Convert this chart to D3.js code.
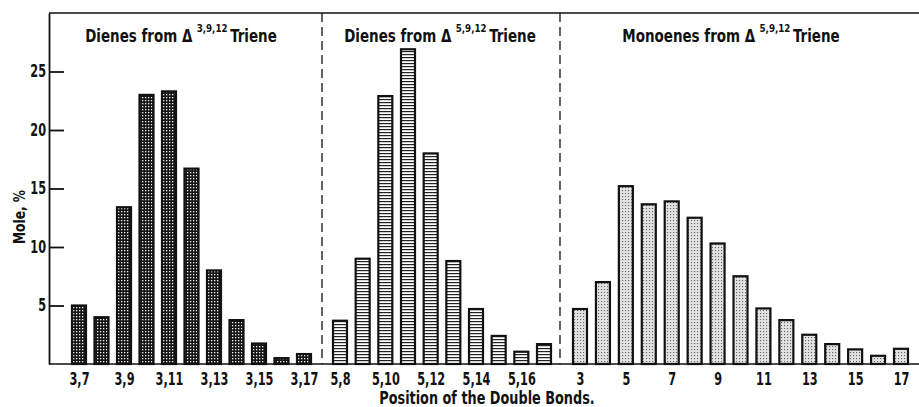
<!DOCTYPE html>
<meta charset="utf-8">
<script src="https://cdn.jsdelivr.net/npm/d3@7/dist/d3.min.js"></script>
<style>
  body { margin: 0; background: #fff; }
  svg text { font-family: "Liberation Sans Narrow", "DejaVu Sans Condensed", sans-serif; font-weight: bold; fill: #111; }
</style>
<body>
<script>
// ---- data ----
var dieneCats39 = ["3,7","3,8","3,9","3,10","3,11","3,12","3,13","3,14","3,15","3,16","3,17"];
var dieneVals39 = [5.0, 4.0, 13.4, 23.0, 23.3, 16.7, 8.0, 3.75, 1.75, 0.5, 0.85];
var dieneLabels39 = ["3,7","3,9","3,11","3,13","3,15","3,17"];

var dieneCats59 = ["5,8","5,9","5,10","5,11","5,12","5,13","5,14","5,15","5,16","5,17"];
var dieneVals59 = [3.7, 9.0, 22.9, 26.9, 18.0, 8.8, 4.7, 2.4, 1.05, 1.7];
var dieneLabels59 = ["5,8","5,10","5,12","5,14","5,16"];

var monoCats = ["3","4","5","6","7","8","9","10","11","12","13","14","15","16","17"];
var monoVals = [4.7, 7.0, 15.2, 13.65, 13.9, 12.5, 10.3, 7.5, 4.75, 3.75, 2.5, 1.7, 1.25, 0.7, 1.3];
var monoLabels = ["3","5","7","9","11","13","15","17"];

var yTicks = [5, 10, 15, 20, 25];

var W = 919, H = 407;
var svg = d3.select("body").append("svg").attr("width", W).attr("height", H);

// squeeze text horizontally around its anchor (the reference type is very condensed)
function squeeze(sel, sx) {
  sel.each(function () {
    var t = d3.select(this);
    var x = +t.attr("x") || 0;
    t.attr("transform", (t.attr("transform") || "") +
      " translate(" + x + ",0) scale(" + sx + ",1) translate(" + (-x) + ",0)");
  });
}

// patterns
var defs = svg.append("defs");
var pDark = defs.append("pattern").attr("id", "dark").attr("patternUnits", "userSpaceOnUse")
  .attr("width", 3).attr("height", 3);
pDark.append("rect").attr("width", 3).attr("height", 3).attr("fill", "#151515");
pDark.append("rect").attr("x", 1).attr("y", 1).attr("width", 1.3).attr("height", 1.3).attr("fill", "#f4f4f4");

var pStripe = defs.append("pattern").attr("id", "stripe").attr("patternUnits", "userSpaceOnUse")
  .attr("width", 4).attr("height", 3);
pStripe.append("rect").attr("width", 4).attr("height", 3).attr("fill", "#fff");
pStripe.append("rect").attr("y", 0).attr("width", 4).attr("height", 1.2).attr("fill", "#222");

var pDot = defs.append("pattern").attr("id", "dots").attr("patternUnits", "userSpaceOnUse")
  .attr("width", 3).attr("height", 3);
pDot.append("rect").attr("width", 3).attr("height", 3).attr("fill", "#e2e2e2");
pDot.append("rect").attr("x", 1).attr("y", 1).attr("width", 1.1).attr("height", 1.1).attr("fill", "#666");

var y = d3.scaleLinear().domain([0, 30]).range([364, 13]);
var x0 = 49;

var panels = [
  {cats: dieneCats39, vals: dieneVals39, labels: dieneLabels39, range: [79, 304], fill: "url(#dark)",
   title: "Dienes from \u0394", sup: "3,9,12", tx: 181},
  {cats: dieneCats59, vals: dieneVals59, labels: dieneLabels59, range: [340, 544], fill: "url(#stripe)",
   title: "Dienes from \u0394", sup: "5,9,12", tx: 440},
  {cats: monoCats, vals: monoVals, labels: monoLabels, range: [580, 901], fill: "url(#dots)",
   title: "Monoenes from \u0394", sup: "5,9,12", tx: 731}
];

var bw = 14;
panels.forEach(function (p) {
  var x = d3.scalePoint().domain(p.cats).range(p.range);
  svg.append("g").selectAll("rect").data(p.cats).enter().append("rect")
    .attr("x", function (d) { return x(d) - bw / 2; })
    .attr("y", function (d, i) { return y(p.vals[i]); })
    .attr("width", bw)
    .attr("height", function (d, i) { return y(0) - y(p.vals[i]); })
    .attr("fill", p.fill).attr("stroke", "#111").attr("stroke-width", 2.2);

  var ax = d3.axisBottom(x).tickValues(p.labels).tickSize(0).tickPadding(9);
  var g = svg.append("g").attr("transform", "translate(0," + y(0) + ")").call(ax);
  g.select(".domain").remove();
  g.selectAll("text").style("font-size", "17px").style("font-family", null).call(squeeze, 0.74);

  var t = svg.append("text").attr("x", p.tx).attr("y", 42).attr("text-anchor", "middle")
    .style("font-size", "17px");
  t.append("tspan").text(p.title);
  t.append("tspan").attr("dy", -10).attr("dx", 5).style("font-size", "11px").text(p.sup);
  t.append("tspan").attr("dy", 10).attr("dx", 3).text("Triene");
  squeeze(t, 0.88);
});

// dashed separators
[322, 560].forEach(function (sx) {
  svg.append("line").attr("x1", sx).attr("x2", sx).attr("y1", 13).attr("y2", y(0))
    .attr("stroke", "#111").attr("stroke-width", 1.3).attr("stroke-dasharray", "9,5");
});

// frame: top and baseline
svg.append("line").attr("x1", x0).attr("x2", W).attr("y1", 13).attr("y2", 13)
  .attr("stroke", "#111").attr("stroke-width", 1.6);
svg.append("line").attr("x1", x0).attr("x2", W).attr("y1", y(0)).attr("y2", y(0))
  .attr("stroke", "#111").attr("stroke-width", 1.6);

// y axis with inward ticks
var yAxis = d3.axisLeft(y).tickValues(yTicks).tickSizeInner(-15).tickSizeOuter(0).tickPadding(3);
var gy = svg.append("g").attr("transform", "translate(" + x0 + ",0)").call(yAxis);
gy.select(".domain").attr("stroke", "#111").attr("stroke-width", 1.8);
gy.selectAll(".tick line").attr("stroke", "#111").attr("stroke-width", 1.8);
gy.selectAll("text").style("font-size", "17px").style("font-family", null).call(squeeze, 0.74);

// axis titles
svg.append("text").attr("transform", "translate(25,217) rotate(-90)").attr("text-anchor", "middle")
  .style("font-size", "16px").text("Mole, %").call(squeeze, 0.85);
svg.append("text").attr("x", 487).attr("y", 404).attr("text-anchor", "middle")
  .style("font-size", "17px").text("Position of the Double Bonds.").call(squeeze, 0.84);
</script>
</body>
